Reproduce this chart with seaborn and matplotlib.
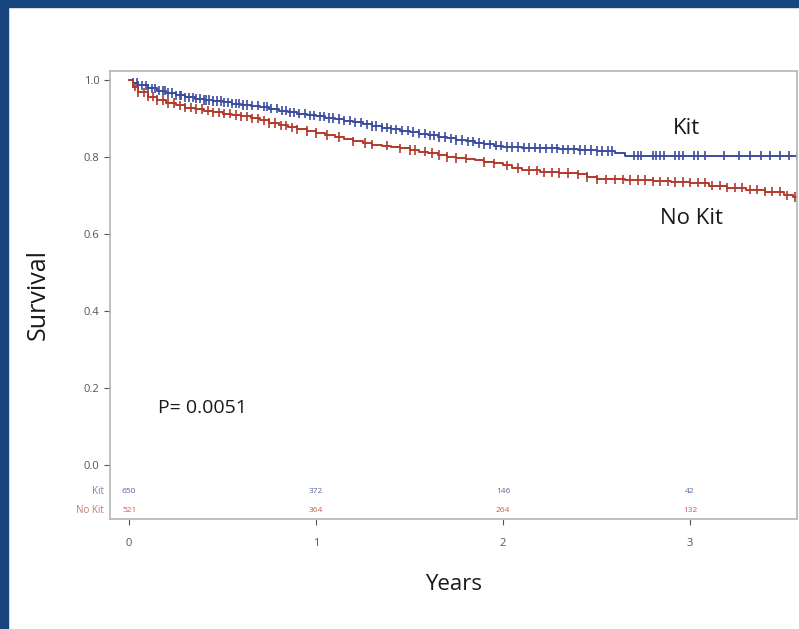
import numpy as np
import pandas as pd
import seaborn as sns
import matplotlib.pyplot as plt
from matplotlib.patches import Rectangle

# Kaplan-Meier step points (years, survival)
kit_time = [0, 0.02, 0.05, 0.1, 0.15, 0.2, 0.25, 0.3, 0.35, 0.4, 0.45, 0.5, 0.55, 0.6, 0.65,
            0.7, 0.75, 0.8, 0.85, 0.9, 0.95, 1.0, 1.05, 1.1, 1.15, 1.2, 1.25, 1.3, 1.35, 1.4,
            1.45, 1.5, 1.55, 1.6, 1.65, 1.7, 1.75, 1.8, 1.85, 1.9, 1.95, 2.0, 2.1, 2.2, 2.3,
            2.4, 2.5, 2.6, 2.65, 3.58]
kit_surv = [1.0, 0.992, 0.986, 0.978, 0.972, 0.966, 0.96, 0.955, 0.951, 0.948, 0.945, 0.942,
            0.938, 0.935, 0.933, 0.93, 0.925, 0.92, 0.916, 0.912, 0.908, 0.905, 0.901, 0.898,
            0.894, 0.89, 0.885, 0.88, 0.876, 0.872, 0.868, 0.865, 0.86, 0.856, 0.852, 0.848,
            0.844, 0.84, 0.836, 0.833, 0.829, 0.826, 0.824, 0.822, 0.82, 0.818, 0.815, 0.81,
            0.803, 0.803]
nokit_time = [0, 0.02, 0.05, 0.1, 0.15, 0.2, 0.25, 0.3, 0.35, 0.4, 0.45, 0.5, 0.55, 0.6, 0.65,
              0.7, 0.75, 0.8, 0.85, 0.9, 0.95, 1.0, 1.05, 1.1, 1.15, 1.2, 1.25, 1.3, 1.35, 1.4,
              1.45, 1.5, 1.55, 1.6, 1.65, 1.7, 1.75, 1.8, 1.85, 1.9, 1.95, 2.0, 2.05, 2.1, 2.2,
              2.3, 2.4, 2.45, 2.5, 2.65, 2.8, 2.9, 3.0, 3.1, 3.2, 3.3, 3.4, 3.5, 3.55, 3.58]
nokit_surv = [1.0, 0.982, 0.968, 0.956, 0.948, 0.94, 0.934, 0.928, 0.924, 0.92, 0.916, 0.912,
              0.909, 0.905, 0.9, 0.895, 0.888, 0.882, 0.877, 0.872, 0.867, 0.862, 0.857, 0.852,
              0.846, 0.84, 0.836, 0.832, 0.829, 0.826, 0.822, 0.818, 0.814, 0.81, 0.805, 0.8,
              0.797, 0.795, 0.791, 0.787, 0.783, 0.778, 0.771, 0.765, 0.76, 0.758, 0.755, 0.748,
              0.742, 0.74, 0.737, 0.735, 0.733, 0.725, 0.72, 0.715, 0.71, 0.7, 0.696, 0.696]

# censoring times
kit_censor = [0.02, 0.04, 0.05, 0.07, 0.09, 0.1, 0.12, 0.14, 0.16, 0.18, 0.19, 0.21, 0.23, 0.25,
              0.27, 0.28, 0.3, 0.32, 0.34, 0.36, 0.38, 0.4, 0.41, 0.43, 0.45, 0.47, 0.49, 0.51,
              0.53, 0.55, 0.57, 0.59, 0.61, 0.63, 0.66, 0.69, 0.72, 0.74, 0.76, 0.79, 0.82, 0.84,
              0.86, 0.88, 0.91, 0.94, 0.97, 0.99, 1.02, 1.04, 1.07, 1.09, 1.12, 1.15, 1.18, 1.21,
              1.24, 1.27, 1.3, 1.32, 1.35, 1.38, 1.4, 1.43, 1.46, 1.49, 1.52, 1.55, 1.58, 1.61,
              1.63, 1.66, 1.69, 1.72, 1.75, 1.78, 1.81, 1.84, 1.87, 1.9, 1.93, 1.96, 1.99, 2.02,
              2.05, 2.08, 2.11, 2.14, 2.17, 2.2, 2.23, 2.26, 2.29, 2.32, 2.35, 2.38, 2.41, 2.44,
              2.47, 2.5, 2.53, 2.56, 2.58, 2.7, 2.72, 2.74, 2.8, 2.82, 2.84, 2.86, 2.92, 2.94,
              2.96, 3.02, 3.04, 3.08, 3.18, 3.26, 3.32, 3.38, 3.43, 3.48, 3.53, 3.57]
nokit_censor = [0.03, 0.05, 0.08, 0.1, 0.13, 0.15, 0.18, 0.21, 0.24, 0.27, 0.3, 0.33, 0.36,
                0.39, 0.42, 0.45, 0.48, 0.51, 0.54, 0.57, 0.6, 0.63, 0.66, 0.69, 0.72, 0.75,
                0.78, 0.81, 0.84, 0.87, 0.9, 0.95, 1.0, 1.06, 1.12, 1.2, 1.26, 1.3, 1.38, 1.45,
                1.5, 1.53, 1.58, 1.62, 1.66, 1.7, 1.75, 1.8, 1.9, 1.95, 2.02, 2.08, 2.14, 2.18,
                2.22, 2.26, 2.3, 2.35, 2.4, 2.45, 2.5, 2.55, 2.6, 2.64, 2.68, 2.72, 2.76, 2.8,
                2.84, 2.88, 2.92, 2.96, 3.0, 3.04, 3.08, 3.12, 3.16, 3.2, 3.24, 3.28, 3.32, 3.36,
                3.4, 3.44, 3.48, 3.52, 3.56]

# numbers at risk
risk_years = [0, 1, 2, 3]
kit_risk = [650, 372, 146, 42]
nokit_risk = [521, 364, 264, 132]

blue = '#3b4c9e'
red = '#b23a2c'

sns.set_style('white')
plt.rcParams['font.family'] = ['Open Sans', 'DejaVu Sans']

df = pd.concat([
    pd.DataFrame({'time': kit_time, 'surv': kit_surv, 'group': 'Kit'}),
    pd.DataFrame({'time': nokit_time, 'surv': nokit_surv, 'group': 'No Kit'}),
])


def surv_at(times, t_arr, s_arr):
    idx = np.searchsorted(t_arr, times, side='right') - 1
    return np.array(s_arr)[idx]


cens = pd.concat([
    pd.DataFrame({'time': kit_censor, 'surv': surv_at(kit_censor, kit_time, kit_surv), 'group': 'Kit'}),
    pd.DataFrame({'time': nokit_censor, 'surv': surv_at(nokit_censor, nokit_time, nokit_surv), 'group': 'No Kit'}),
])

fig = plt.figure(figsize=(7.99, 6.29), dpi=100)
# dark blue frame of the slide
fig.patches.append(Rectangle((0, 1 - 7 / 629), 1, 7 / 629, transform=fig.transFigure,
                             color='#17467f', zorder=0))
fig.patches.append(Rectangle((0, 0), 8 / 799, 1, transform=fig.transFigure,
                             color='#17467f', zorder=0))

ax = fig.add_axes([110 / 799, 1 - 519 / 629, 687 / 799, 448 / 629])
pal = {'Kit': blue, 'No Kit': red}
sns.lineplot(data=df, x='time', y='surv', hue='group', palette=pal, drawstyle='steps-post',
             linewidth=1.4, legend=False, ax=ax)
sns.scatterplot(data=cens, x='time', y='surv', hue='group', palette=pal, marker='|', s=45,
                linewidth=1.2, legend=False, ax=ax)

ax.set_xlim(-0.102, 3.572)
ax.set_ylim(-0.14, 1.023)
ax.set_yticks([0, 0.2, 0.4, 0.6, 0.8, 1.0])
ax.set_yticklabels(['0.0', '0.2', '0.4', '0.6', '0.8', '1.0'])
ax.set_xticks(risk_years)
ax.tick_params(axis='both', colors='#555555', labelsize=8, length=4, width=0.8,
               direction='out', left=True, bottom=True)
ax.tick_params(axis='x', pad=10)
for s in ax.spines.values():
    s.set_color('#b5b5b5')
    s.set_linewidth(1.2)

ax.set_xlabel('Years', fontsize=16, color='#1a1a1a', labelpad=18)
ax.set_ylabel('Survival', fontsize=18, color='#1a1a1a', labelpad=24)

# at-risk table inside the axes
for x, a, b in zip(risk_years, kit_risk, nokit_risk):
    ax.text(x, -0.0675, str(a), color='#5a66a8', fontsize=6, ha='center', va='center')
    ax.text(x, -0.117, str(b), color='#c0604c', fontsize=6, ha='center', va='center')
ax.text(-0.135, -0.0675, 'Kit', color='#7a80b8', fontsize=7, ha='right', va='center')
ax.text(-0.135, -0.117, 'No Kit', color='#c07a70', fontsize=7, ha='right', va='center')

ax.text(2.98, 0.875, 'Kit', fontsize=16, color='#1a1a1a', ha='center', va='center')
ax.text(3.01, 0.64, 'No Kit', fontsize=16, color='#1a1a1a', ha='center', va='center')
ax.text(0.155, 0.148, 'P= 0.0051', fontsize=14, color='#1a1a1a', ha='left', va='center')

fig.savefig('out.png', dpi=100)
